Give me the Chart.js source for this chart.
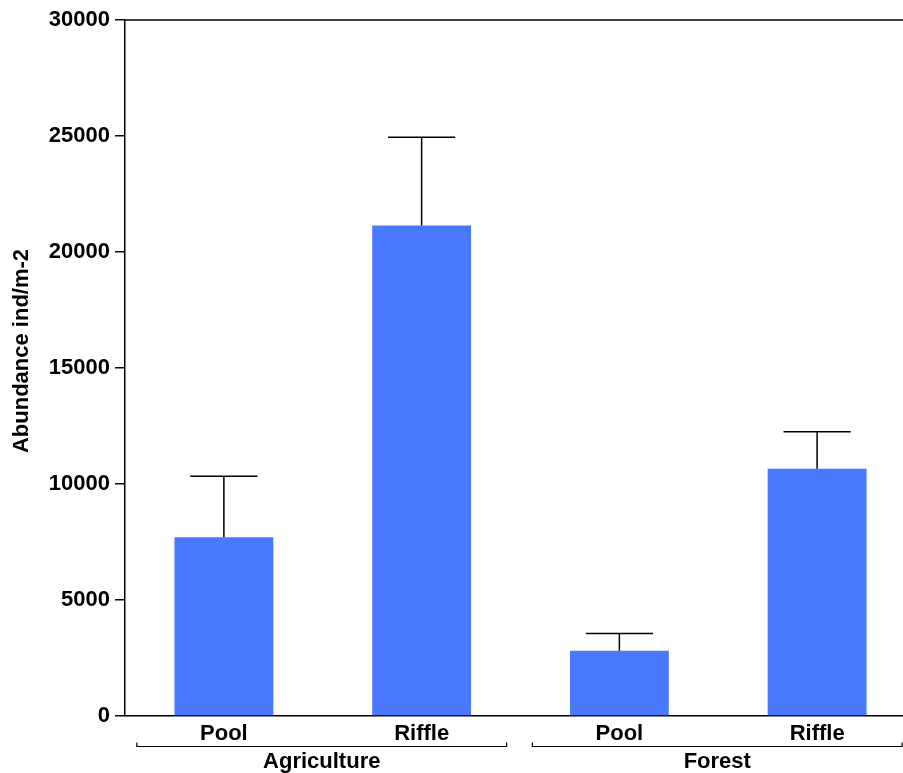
<!DOCTYPE html>
<html lang="en">
<head>
  <meta charset="UTF-8">
  <title>Abundance</title>
  <script src="https://cdn.jsdelivr.net/npm/chart.js"></script>
  <style>
    html, body {
      margin: 0;
      padding: 0;
      overflow: hidden;
      background: #fff;
    }
  </style>
</head>
<body>
  <canvas id="abundance-chart" width="916" height="773"></canvas>

  <script>
    const categories = ['Pool', 'Riffle', 'Pool', 'Riffle'];
    const groups = ['Agriculture', 'Agriculture', 'Forest', 'Forest'];
    const groupNames = ['Agriculture', 'Forest'];
    const abundance = [7700, 21140, 2810, 10660];
    const errorTop = [10330, 24950, 3560, 12250];
    const yTicks = [0, 5000, 10000, 15000, 20000, 25000, 30000];
    const yTitle = 'Abundance ind/m-2';

    const FONT = "'Liberation Sans', Arial, sans-serif";

    // upper error bars, frame line, y title and group brackets
    const extras = {
      id: 'extras',
      afterDatasetsDraw(chart) {
        const ctx = chart.ctx;
        const x = chart.scales.x;
        const y = chart.scales.y;
        const area = chart.chartArea;
        const bars = chart.getDatasetMeta(0).data;

        ctx.save();
        ctx.strokeStyle = '#000';
        ctx.lineWidth = 1.5;

        ctx.beginPath();
        ctx.moveTo(area.left, area.top);
        ctx.lineTo(area.right, area.top);
        ctx.stroke();

        bars.forEach((bar, i) => {
          const yTop = y.getPixelForValue(errorTop[i]);
          const capHalf = bar.width * 0.34;
          ctx.beginPath();
          ctx.moveTo(bar.x, bar.y);
          ctx.lineTo(bar.x, yTop);
          ctx.moveTo(bar.x - capHalf, yTop);
          ctx.lineTo(bar.x + capHalf, yTop);
          ctx.stroke();
        });

        ctx.fillStyle = '#000';
        ctx.font = 'bold 22px ' + FONT;
        ctx.textAlign = 'center';
        ctx.textBaseline = 'middle';

        // y axis title
        ctx.save();
        ctx.translate(22, 351);
        ctx.rotate(-Math.PI / 2);
        ctx.fillText(yTitle, 0, 0);
        ctx.restore();

        // group brackets
        const step = x.getPixelForValue(1) - x.getPixelForValue(0);
        const bracketY = 746.5;
        ctx.lineWidth = 1.2;
        groupNames.forEach(name => {
          const idx = groups.map((g, i) => g === name ? i : -1).filter(i => i >= 0);
          const x0 = x.getPixelForValue(idx[0]) - step * 0.44;
          const x1 = x.getPixelForValue(idx[idx.length - 1]) + step * 0.43;
          ctx.beginPath();
          ctx.moveTo(x0, bracketY - 4);
          ctx.lineTo(x0, bracketY);
          ctx.lineTo(x1, bracketY);
          ctx.lineTo(x1, bracketY - 4);
          ctx.stroke();
          ctx.fillText(name, (x0 + x1) / 2, 762);
        });
        ctx.restore();
      }
    };

    const ctx = document.getElementById('abundance-chart').getContext('2d');
    new Chart(ctx, {
      type: 'bar',
      data: {
        labels: categories,
        datasets: [{
          data: abundance,
          backgroundColor: '#4a79ff',
          borderWidth: 0,
          categoryPercentage: 1,
          barPercentage: 0.5
        }]
      },
      options: {
        responsive: false,
        animation: false,
        layout: { padding: { top: 20, right: 0, left: 0, bottom: 0 } },
        plugins: {
          legend: { display: false },
          tooltip: { enabled: false }
        },
        scales: {
          x: {
            grid: { display: false, drawTicks: false },
            border: { display: true, color: '#000', width: 1.5 },
            ticks: {
              color: '#000',
              padding: 5,
              font: { family: FONT, size: 22, weight: 'bold' }
            },
            afterFit(scale) { scale.height = 57; }
          },
          y: {
            min: 0,
            max: 30000,
            afterBuildTicks(scale) {
              scale.ticks = yTicks.map(v => ({ value: v }));
            },
            grid: {
              display: true,
              drawOnChartArea: false,
              drawTicks: true,
              tickLength: 10,
              color: '#000',
              lineWidth: 1.5
            },
            border: { display: true, color: '#000', width: 1.5 },
            ticks: {
              color: '#000',
              padding: 5,
              font: { family: FONT, size: 22, weight: 'bold' },
              callback: v => String(v)
            },
            afterFit(scale) { scale.width = 125; }
          }
        }
      },
      plugins: [extras]
    });
  </script>
</body>
</html>
